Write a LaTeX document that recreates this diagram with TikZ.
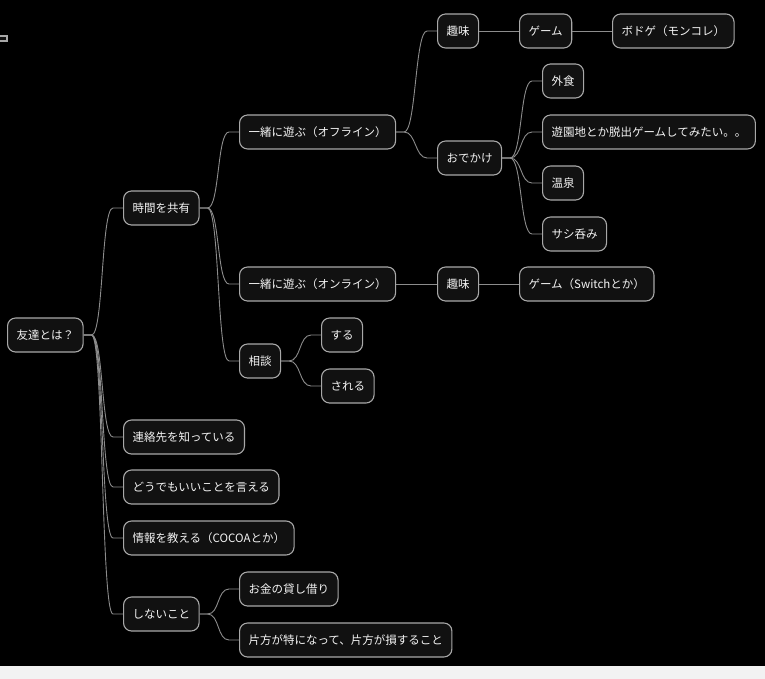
\documentclass[tikz,border=0pt]{standalone}
\usepackage{fontspec}
\setmainfont{Noto Sans CJK JP}
\definecolor{nodefill}{HTML}{111111}
\definecolor{nodeline}{HTML}{A8A8A8}
\definecolor{edgecol}{HTML}{8C8C8C}
\definecolor{stripcol}{HTML}{F2F2F2}
\definecolor{txtcol}{HTML}{F4F4F4}
\tikzset{
  mm/.style={draw=nodeline, line width=1.1pt, fill=nodefill, rounded corners=8pt,
    text=txtcol, font=\fontsize{11.5}{13}\selectfont, inner xsep=9pt, inner ysep=0pt,
    minimum height=34pt, anchor=west},
  edge/.style={draw=edgecol, line width=0.9pt},
}
\newcommand{\conn}[2]{\draw[edge] (#1.east) -- ++(8,0) .. controls +(12,0) and +(-12,0) .. ([xshift=-10pt]#2.west) -- (#2.west);}
\newcommand{\straight}[2]{\draw[edge] (#1.east) -- (#2.west);}
\begin{document}
\begin{tikzpicture}[x=1pt,y=-1pt]
\useasboundingbox (0,0) rectangle (765,679);
\fill[stripcol] (0,0) rectangle (765,679);
\fill[black] (0,0) rectangle (765,666);
\begin{scope}
\clip (0,0) rectangle (765,666);
\draw[draw=nodeline, line width=1.1pt, fill=nodefill] (-4,36) rectangle (7,41);
\end{scope}
\node[mm] (root) at (7,335) {友達とは？};
\node[mm] (jikan) at (123,208) {時間を共有};
\node[mm] (off) at (239,132) {一緒に遊ぶ（オフライン）};
\node[mm] (on) at (239,284) {一緒に遊ぶ（オンライン）};
\node[mm] (soudan) at (239,361) {相談};
\node[mm] (suru) at (321,335) {する};
\node[mm] (sareru) at (321,386) {される};
\node[mm] (renraku) at (123,437) {連絡先を知っている};
\node[mm] (dou) at (123,487) {どうでもいいことを言える};
\node[mm] (jouhou) at (123,538) {情報を教える（COCOAとか）};
\node[mm] (shinai) at (123,614) {しないこと};
\node[mm] (okane) at (239,589) {お金の貸し借り};
\node[mm] (katahou) at (239,640) {片方が特になって、片方が損すること};
\node[mm] (shumi1) at (437,31) {趣味};
\node[mm] (game1) at (519,31) {ゲーム};
\node[mm] (bodoge) at (612,31) {ボドゲ（モンコレ）};
\node[mm] (odekake) at (437,158) {おでかけ};
\node[mm] (gaishoku) at (542,81) {外食};
\node[mm] (yuuen) at (542,132) {遊園地とか脱出ゲームしてみたい。。};
\node[mm] (onsen) at (542,183) {温泉};
\node[mm] (sashi) at (542,234) {サシ呑み};
\node[mm] (shumi2) at (437,284) {趣味};
\node[mm] (game2) at (519,284) {ゲーム（Switchとか）};
\conn{root}{jikan}
\conn{root}{renraku}
\conn{root}{dou}
\conn{root}{jouhou}
\conn{root}{shinai}
\conn{jikan}{off}
\conn{jikan}{on}
\conn{jikan}{soudan}
\conn{off}{shumi1}
\conn{off}{odekake}
\straight{shumi1}{game1}
\straight{game1}{bodoge}
\conn{odekake}{gaishoku}
\conn{odekake}{yuuen}
\conn{odekake}{onsen}
\conn{odekake}{sashi}
\straight{on}{shumi2}
\straight{shumi2}{game2}
\conn{soudan}{suru}
\conn{soudan}{sareru}
\conn{shinai}{okane}
\conn{shinai}{katahou}
\end{tikzpicture}
\end{document}
